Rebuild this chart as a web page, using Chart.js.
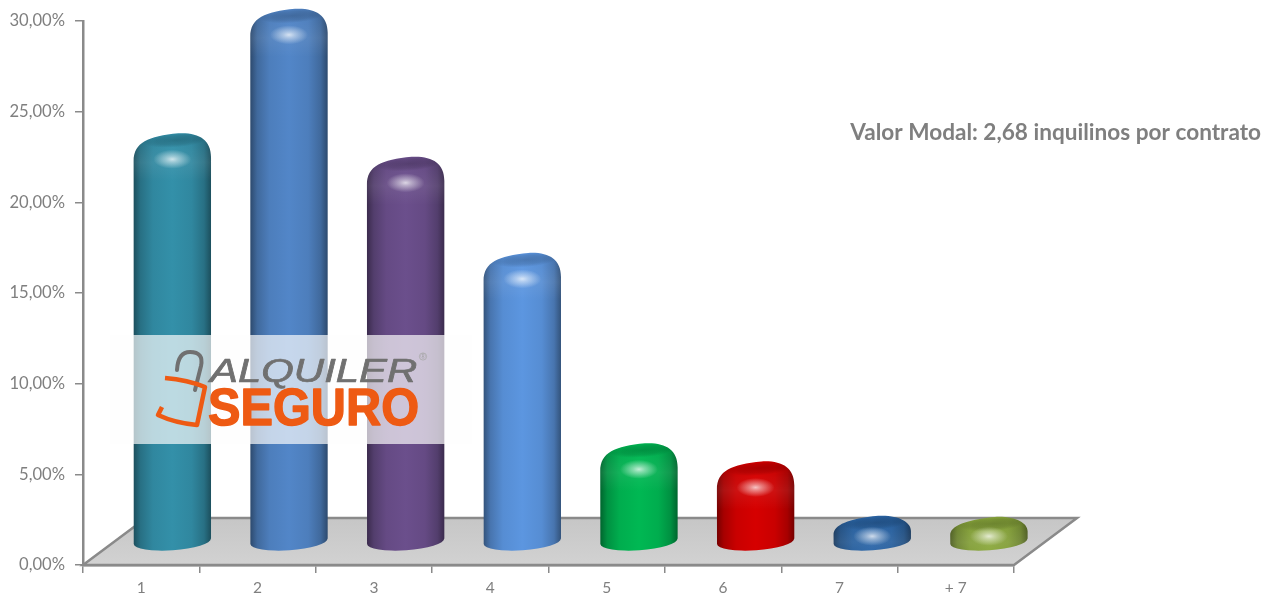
<!DOCTYPE html>
<html><head><meta charset="utf-8">
<style>html,body{margin:0;padding:0;background:#fff}canvas{display:block}</style>
<script src="https://cdn.jsdelivr.net/npm/chart.js@4/dist/chart.umd.min.js"></script>
</head><body><canvas id="c" width="1265" height="598"></canvas>
<script>
const categories = ['1','2','3','4','5','6','7','+ 7'];
const shares = [22.1,28.96,20.8,15.5,5.0,4.0,1.0,0.94];
const barColors = ['#3390a9','#5286c8','#6b4f8c','#5c96e0','#00b853','#d60000','#2b66a8','#8aa83c'];
const note = 'Valor Modal: 2,68 inquilinos por contrato';
const logoTop = 'ALQUILER', logoBottom = 'SEGURO';

const DEPTH_X = 63, DEPTH_Y = 47, OFF_X = 31, OFF_Y = -23, RISE = 8, ELL = 9, DRIFT = 0.0024;
const GRAY = '#8a8a8a', TEXT = '#7f7f7f', FONT = 'Lato, "Open Sans", sans-serif';

function shade(hex, f){
  const n = parseInt(hex.slice(1),16);
  const c = [n>>16, (n>>8)&255, n&255].map(v => Math.round(f<1 ? v*f : v+(255-v)*(f-1)));
  return c;
}
const css = (c,a=1) => 'rgba('+c.join(',')+','+a+')';
function cylPath(ctx, cx, w, top, baseY){
  const L = cx-w/2, R = cx+w/2;
  const s = Math.min(28, (baseY-top)*0.75);
  ctx.beginPath();
  ctx.moveTo(L, top+s);
  ctx.bezierCurveTo(L, top+9, cx-24, top+3, cx+6, top);
  ctx.bezierCurveTo(cx+26, top-1, R, top+6, R, top+s-4);
  ctx.lineTo(R, baseY-2);
  ctx.ellipse(cx, baseY, w/2, ELL, -0.07, 0, Math.PI, false);
  ctx.closePath();
}
Chart.BarElement.prototype.draw = function(ctx){
  const col = this.options.backgroundColor;
  const left = this.$context.chart.chartArea.left;
  const cx = this.x + OFF_X + (this.x-left)*DRIFT, w = this.width;
  const top = this.y + OFF_Y - RISE, baseY = this.base + OFF_Y;
  const L = cx-w/2, R = cx+w/2;
  ctx.save();
  cylPath(ctx, cx, w, top, baseY);
  const g = ctx.createLinearGradient(L,0,R,0);
  g.addColorStop(0, css(shade(col,.55))); g.addColorStop(.09, css(shade(col,.78)));
  g.addColorStop(.25, css(shade(col,.94))); g.addColorStop(.5, css(shade(col,1)));
  g.addColorStop(.75, css(shade(col,.94)));
  g.addColorStop(.91, css(shade(col,.78))); g.addColorStop(1, css(shade(col,.55)));
  ctx.fillStyle = g; ctx.fill();
  ctx.clip();
  const capY = Math.min(top+26, baseY-5);
  // soft lit band under the top surface
  const b = ctx.createLinearGradient(0, top+6, 0, capY+22);
  b.addColorStop(0,'rgba(255,255,255,0)'); b.addColorStop(.55,'rgba(255,255,255,.07)');
  b.addColorStop(1,'rgba(255,255,255,0)');
  ctx.fillStyle = b; ctx.fillRect(L,top+6,w,capY+16-top);
  // darker top surface
  ctx.save();
  ctx.translate(cx+3, top+7); ctx.rotate(-0.07); ctx.scale(1,.22);
  const d = ctx.createRadialGradient(0,0,0,0,0,w*.42);
  d.addColorStop(0,'rgba(0,0,0,.2)'); d.addColorStop(.6,'rgba(0,0,0,.12)'); d.addColorStop(1,'rgba(0,0,0,0)');
  ctx.fillStyle = d; ctx.beginPath(); ctx.arc(0,0,w*.42,0,Math.PI*2); ctx.fill();
  ctx.restore();
  // specular highlight tinted by the bar colour
  const tint = shade(col,1.8);
  ctx.save();
  ctx.translate(cx, capY); ctx.scale(1,.5);
  const h = ctx.createRadialGradient(0,0,0,0,0,19);
  h.addColorStop(0,css(tint,.95)); h.addColorStop(.3,css(tint,.62)); h.addColorStop(1,css(tint,0));
  ctx.fillStyle = h; ctx.beginPath(); ctx.arc(0,0,19,0,Math.PI*2); ctx.fill();
  ctx.restore();
  ctx.restore();
};

const scene = {
  id:'scene',
  beforeDatasetsDraw(chart){
    const {ctx, chartArea:a} = chart;
    ctx.save();
    ctx.beginPath();
    ctx.moveTo(a.left,a.bottom); ctx.lineTo(a.right,a.bottom);
    ctx.lineTo(a.right+DEPTH_X,a.bottom-DEPTH_Y); ctx.lineTo(a.left+DEPTH_X,a.bottom-DEPTH_Y);
    ctx.closePath();
    const g = ctx.createLinearGradient(0,a.bottom-DEPTH_Y,0,a.bottom);
    g.addColorStop(0,'#c6c6c6'); g.addColorStop(1,'#d2d2d2');
    ctx.fillStyle = g; ctx.fill();
    ctx.strokeStyle = GRAY; ctx.lineWidth = 2.5; ctx.lineJoin='miter'; ctx.stroke();
    ctx.restore();
  },
  afterDatasetsDraw(chart){
    const {ctx} = chart;
    ctx.save();
    ctx.fillStyle = 'rgba(253,253,253,.68)';
    ctx.fillRect(110,335,362,109);
    // shackle
    ctx.lineCap='round'; ctx.lineJoin='round';
    ctx.strokeStyle='#707070'; ctx.lineWidth=4;
    ctx.beginPath(); ctx.moveTo(177,370); ctx.quadraticCurveTo(178,352,190,352);
    ctx.quadraticCurveTo(204,352,201,366); ctx.lineTo(195,390); ctx.stroke();
    // body
    ctx.strokeStyle='#ee5a13'; ctx.lineWidth=4.5; ctx.lineCap='butt';
    ctx.beginPath(); ctx.moveTo(165,378); ctx.quadraticCurveTo(188,380,205,387);
    ctx.lineTo(197,425); ctx.quadraticCurveTo(175,423,158,415); ctx.lineTo(162,407); ctx.stroke();
    // wordmark
    ctx.textBaseline='alphabetic'; ctx.textAlign='left';
    ctx.save();
    ctx.translate(210,382); ctx.scale(1.27,1);
    ctx.fillStyle=ctx.strokeStyle='#707070'; ctx.font='italic 33px "Liberation Sans", sans-serif';
    ctx.lineWidth=.7; ctx.strokeText(logoTop,0,0);
    ctx.fillText(logoTop,0,0);
    ctx.restore();
    ctx.fillStyle=ctx.strokeStyle='#ee5a13'; ctx.font='bold 52px "Liberation Sans", sans-serif';
    ctx.lineWidth=1.4; ctx.strokeText(logoBottom,208,425,211);
    ctx.fillText(logoBottom,208,425,211);
    ctx.fillStyle='#a0a0a0'; ctx.font='7px "Liberation Sans", sans-serif'; ctx.textAlign='center';
    ctx.fillText('®',423,359);
    ctx.strokeStyle='#a8a8a8'; ctx.lineWidth=.8; ctx.beginPath(); ctx.arc(423,356.5,3.6,0,Math.PI*2); ctx.stroke();
    // note
    ctx.fillStyle=TEXT; ctx.font='bold 22.6px '+FONT; ctx.textAlign='right'; ctx.textBaseline='middle';
    ctx.fillText(note,1261,133);
    ctx.restore();
  }
};

new Chart(document.getElementById('c'),{
  type:'bar',
  data:{labels:categories,datasets:[{data:shares,backgroundColor:barColors,barPercentage:.665,categoryPercentage:1,clip:false}]},
  options:{
    responsive:false,animation:false,devicePixelRatio:1,
    layout:{padding:{top:21,right:251,left:0,bottom:0}},
    plugins:{legend:{display:false},tooltip:{enabled:false}},
    scales:{
      x:{
        afterFit(s){s.height=33;},
        border:{color:GRAY,width:2.5},
        grid:{drawOnChartArea:false,color:GRAY,lineWidth:1.5,tickLength:8,offset:true},
        ticks:{color:TEXT,font:{family:FONT,size:15.5},padding:6,maxRotation:0}
      },
      y:{
        min:0,max:30,
        afterFit(s){s.width=83;},
        border:{color:GRAY,width:2.5},
        grid:{drawOnChartArea:false,color:GRAY,lineWidth:1.5,tickLength:8},
        ticks:{stepSize:5,color:TEXT,font:{family:FONT,size:16.6},padding:10,
          callback:v=>v.toFixed(2).replace('.',',')+'%'}
      }
    }
  },
  plugins:[scene]
});
</script></body></html>
